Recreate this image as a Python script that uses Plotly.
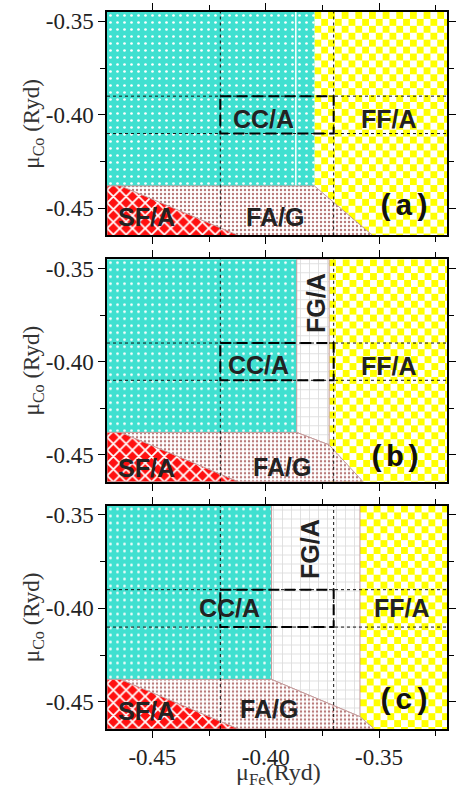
import base64
import plotly.graph_objects as go

# ---------------- data ----------------
panel_tags = ["(a)", "(b)", "(c)"]
x_range = [-0.47, -0.32]
y_range = [-0.4645, -0.345]
major_ticks = [-0.45, -0.40, -0.35]
major_text = ["-0.45", "-0.40", "-0.35"]
x_minor = [-0.425, -0.375, -0.325]
y_minor = [-0.425, -0.375]

# phase boundaries per panel
cc_right = [-0.3785, -0.3863, -0.3974]      # right edge of CC/A
ff_left = [-0.3785, -0.3720, -0.3584]       # left edge of FF/A
kink_y = [-0.4380, -0.4447, -0.4579]        # FA/G boundary meets FF/A
fa_right_bottom = [-0.3528, -0.3570, -0.3520]
inner_line_x = [-0.3867, None, None]
phase_y = -0.438                            # top of FA/G and SF/A
sf_top_x = -0.464
sf_bottom_x = -0.412

# guide lines / box
guide_x = [-0.42, -0.37]
guide_y = [-0.39, -0.41]

# labels (x, y) per panel
cc_lab = [(-0.4008, -0.4020), (-0.4030, -0.4016), (-0.4159, -0.4000)]
ff_lab = [(-0.3455, -0.4020), (-0.3455, -0.4025), (-0.3400, -0.4000)]
fa_lab = [(-0.3957, -0.4547), (-0.3927, -0.4568), (-0.3987, -0.4537)]
sf_lab = [(-0.4526, -0.4547), (-0.4526, -0.4570), (-0.4526, -0.4547)]
fg_lab = [None, (-0.3777, -0.3684), (-0.3807, -0.3680)]
tag_pos = [(-0.3390, -0.4495), (-0.3429, -0.4516), (-0.3390, -0.4495)]

# ---------------- styling ----------------
W, H = 459, 792
ML, MR, MT, MB = 107, 3, 4, 63
domains = [[0.6883, 1.0], [0.3448, 0.6552], [0.0, 0.3117]]
CYAN = "#40E0D0"
YELLOW = "#FFFF00"
RED = "#FF1010"
ROSY = "#C49A9A"
TXT = "#222222"


def checker_uri(w, h, cell=7):
    svg = (f"<svg xmlns='http://www.w3.org/2000/svg' width='{w}' height='{h}' "
           f"viewBox='0 0 {w} {h}' shape-rendering='crispEdges'><defs>"
           f"<pattern id='p' width='{2*cell}' height='{2*cell}' patternUnits='userSpaceOnUse'>"
           f"<rect width='{2*cell}' height='{2*cell}' fill='#ffffff'/>"
           f"<rect width='{cell}' height='{cell}' fill='{YELLOW}'/>"
           f"<rect x='{cell}' y='{cell}' width='{cell}' height='{cell}' fill='{YELLOW}'/>"
           f"</pattern></defs><rect width='{w}' height='{h}' fill='url(#p)'/></svg>")
    return "data:image/svg+xml;base64," + base64.b64encode(svg.encode()).decode()


fig = go.Figure()
images, annotations = [], []
plot_w = W - ML - MR
plot_h_total = H - MT - MB

for i in range(3):
    xa = "x" if i == 0 else f"x{i+1}"
    ya = "y" if i == 0 else f"y{i+1}"
    y0, y1 = y_range
    x0, x1 = x_range

    # FF/A region (checkerboard) as image in its bounding box
    box_w = int(round((x1 - ff_left[i]) / (x1 - x0) * plot_w))
    box_h = int(round((domains[i][1] - domains[i][0]) * plot_h_total))
    images.append(dict(source=checker_uri(box_w, box_h), xref=xa, yref=ya,
                       x=ff_left[i], y=y1, sizex=x1 - ff_left[i], sizey=y1 - y0,
                       xanchor="left", yanchor="top", sizing="stretch", layer="below"))

    # CC/A
    fig.add_trace(go.Scatter(
        x=[x0, cc_right[i], cc_right[i], x0, x0], y=[y1, y1, phase_y, phase_y, y1],
        fill="toself", fillcolor=CYAN, mode="lines", line=dict(width=0, color=CYAN),
        fillpattern=dict(shape=".", bgcolor=CYAN, fgcolor="white", fgopacity=1,
                         size=7, solidity=0.12),
        xaxis=xa, yaxis=ya, showlegend=False, hoverinfo="skip"))

    # FG/A
    if ff_left[i] > cc_right[i] + 1e-6:
        fig.add_trace(go.Scatter(
            x=[cc_right[i], ff_left[i], ff_left[i], cc_right[i], cc_right[i]],
            y=[y1, y1, kink_y[i], phase_y, y1],
            fill="toself", fillcolor="white", mode="lines", line=dict(width=1, color=ROSY),
            fillpattern=dict(shape="+", bgcolor="white", fgcolor="#DCDCDC", fgopacity=1,
                             size=9, solidity=0.18),
            xaxis=xa, yaxis=ya, showlegend=False, hoverinfo="skip"))

    # white line inside CC/A (panel a)
    if inner_line_x[i] is not None:
        fig.add_trace(go.Scatter(x=[inner_line_x[i], inner_line_x[i]], y=[y1, phase_y],
                                 mode="lines", line=dict(color="white", width=1.5),
                                 xaxis=xa, yaxis=ya, showlegend=False, hoverinfo="skip"))

    # FA/G
    fig.add_trace(go.Scatter(
        x=[x0, cc_right[i], ff_left[i], fa_right_bottom[i], x0, x0],
        y=[phase_y, phase_y, kink_y[i], y0, y0, phase_y],
        fill="toself", fillcolor="white", mode="lines", line=dict(width=1, color=ROSY),
        fillpattern=dict(shape=".", bgcolor="white", fgcolor="#B87878", fgopacity=1,
                         size=4, solidity=0.28),
        xaxis=xa, yaxis=ya, showlegend=False, hoverinfo="skip"))

    # SF/A
    fig.add_trace(go.Scatter(
        x=[x0, sf_top_x, sf_bottom_x, x0, x0], y=[phase_y, phase_y, y0, y0, phase_y],
        fill="toself", fillcolor=RED, mode="lines", line=dict(width=1, color=ROSY),
        fillpattern=dict(shape="x", bgcolor=RED, fgcolor="white", fgopacity=1,
                         size=9, solidity=0.35),
        xaxis=xa, yaxis=ya, showlegend=False, hoverinfo="skip"))

    # thin guide lines
    for gx in guide_x:
        fig.add_trace(go.Scatter(x=[gx, gx], y=[y0, y1], mode="lines",
                                 line=dict(color="#111", width=1, dash="3px,3px"),
                                 xaxis=xa, yaxis=ya, showlegend=False, hoverinfo="skip"))
    for gy in guide_y:
        fig.add_trace(go.Scatter(x=[x0, x1], y=[gy, gy], mode="lines",
                                 line=dict(color="#111", width=1, dash="3px,3px"),
                                 xaxis=xa, yaxis=ya, showlegend=False, hoverinfo="skip"))
    # thick dashed box
    fig.add_trace(go.Scatter(
        x=[guide_x[0], guide_x[1], guide_x[1], guide_x[0], guide_x[0]],
        y=[guide_y[0], guide_y[0], guide_y[1], guide_y[1], guide_y[0]],
        mode="lines", line=dict(color="black", width=2, dash="11px,5px"),
        xaxis=xa, yaxis=ya, showlegend=False, hoverinfo="skip"))

    lab_font = dict(family="Liberation Sans, Arial, sans-serif", size=25, color=TXT, weight="bold")
    for txt, pos in (("CC/A", cc_lab[i]), ("FF/A", ff_lab[i]), ("FA/G", fa_lab[i]), ("SF/A", sf_lab[i])):
        annotations.append(dict(text=txt, x=pos[0], y=pos[1], xref=xa, yref=ya,
                                showarrow=False, font=lab_font))
    if fg_lab[i] is not None:
        annotations.append(dict(text="FG/A", x=fg_lab[i][0], y=fg_lab[i][1], xref=xa, yref=ya,
                                showarrow=False, textangle=-90, font=lab_font))
    annotations.append(dict(text=panel_tags[i], x=tag_pos[i][0], y=tag_pos[i][1], xref=xa, yref=ya,
                            showarrow=False,
                            font=dict(family="Liberation Mono, Courier New, monospace", size=30,
                                      color="#111", weight="bold")))
    # y title
    annotations.append(dict(text="μ<sub>Co</sub> (Ryd)", xref="paper", yref="paper",
                            x=(31 - ML) / plot_w, y=sum(domains[i]) / 2, textangle=-90,
                            showarrow=False, xanchor="center", yanchor="middle",
                            font=dict(family="Liberation Serif, Times New Roman, serif",
                                      size=23, color="#333")))

annotations.append(dict(text="μ<sub>Fe</sub>(Ryd)", xref="paper", yref="paper",
                        x=(283 - ML) / plot_w, y=(729 - 757) / plot_h_total,
                        xanchor="center", yanchor="top", showarrow=False,
                        font=dict(family="Liberation Serif, Times New Roman, serif",
                                  size=24, color="#333")))

tick_font = dict(family="Liberation Serif, Times New Roman, serif", size=23, color="#222")
layout = dict(width=W, height=H, margin=dict(l=ML, r=MR, t=MT, b=MB),
              paper_bgcolor="white", plot_bgcolor="white",
              images=images, annotations=annotations, showlegend=False)
for i in range(3):
    xk = "xaxis" if i == 0 else f"xaxis{i+1}"
    yk = "yaxis" if i == 0 else f"yaxis{i+1}"
    ya = "y" if i == 0 else f"y{i+1}"
    xa = "x" if i == 0 else f"x{i+1}"
    common = dict(showline=True, linecolor="black", linewidth=1.5, mirror="ticks",
                  ticks="outside", ticklen=7, tickwidth=1, tickcolor="black",
                  showgrid=False, zeroline=False, tickfont=tick_font,
                  tickmode="array", tickvals=major_ticks, ticktext=major_text)
    layout[xk] = dict(common, range=x_range, domain=[0, 1], anchor=ya,
                      showticklabels=(i == 2),
                      minor=dict(ticks="outside", ticklen=5, tickwidth=1, tickcolor="black",
                                 tickmode="array", tickvals=x_minor, showgrid=False))
    layout[yk] = dict(common, range=y_range, domain=domains[i], anchor=xa,
                      minor=dict(ticks="outside", ticklen=5, tickwidth=1, tickcolor="black",
                                 tickmode="array", tickvals=y_minor, showgrid=False))
fig.update_layout(**layout)
fig.write_html("out.html")
